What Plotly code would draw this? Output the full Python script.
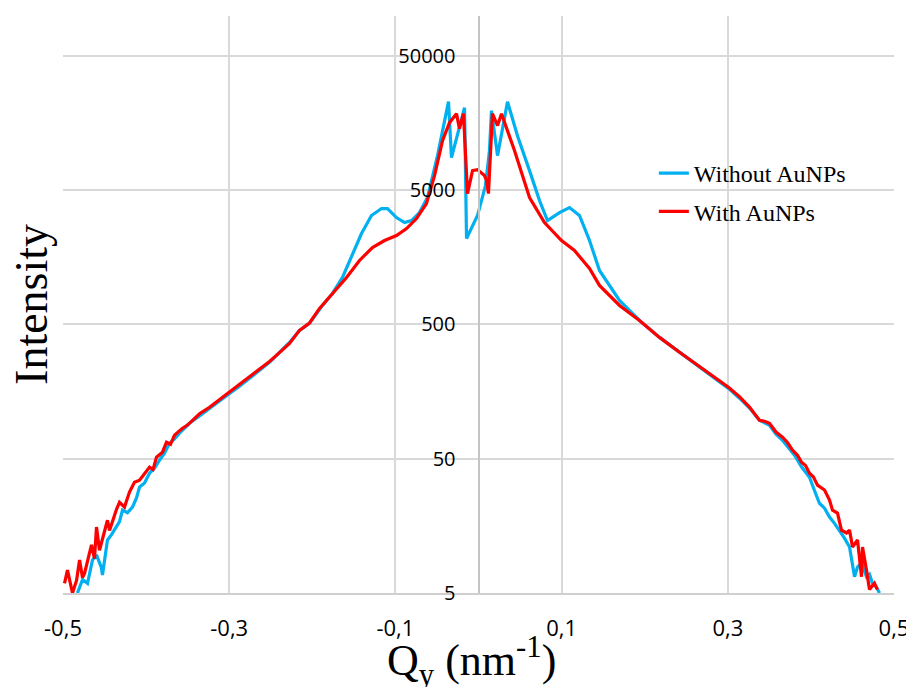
import plotly.graph_objects as go

# Q_y (nm^-1) and intensity
q_without = [-0.4826, -0.4765, -0.4705, -0.4669, -0.4645, -0.4597, -0.4540, -0.4525, -0.4489, -0.4465,
             -0.4416, -0.4356, -0.4320, -0.4284, -0.4224, -0.4164, -0.4116, -0.4079, -0.4019, -0.3959,
             -0.3899, -0.3839, -0.3779, -0.3718, -0.3658, -0.3598, -0.3538, -0.3478, -0.3357, -0.3237,
             -0.3116, -0.2996, -0.2876, -0.2756, -0.2635, -0.2515, -0.2395, -0.2274, -0.2154, -0.2034,
             -0.1877, -0.1757, -0.1637, -0.1516, -0.1408,
             -0.1288, -0.1167, -0.1095, -0.0987, -0.0890, -0.0806, -0.0710, -0.0614, -0.0493,
             -0.0361, -0.0325, -0.0168, -0.0144, -0.0012, 0.0084, 0.0132, 0.0156, 0.0229,
             0.0349, 0.0469, 0.0614, 0.0734, 0.0830, 0.0975, 0.1095, 0.1215, 0.1336, 0.1456,
             0.1697, 0.1937, 0.2178, 0.2419, 0.2659, 0.2840, 0.3008, 0.3140, 0.3261, 0.3381, 0.3442,
             0.3502, 0.3580, 0.3658, 0.3730, 0.3803, 0.3887, 0.3983, 0.4043, 0.4103, 0.4164, 0.4224,
             0.4284, 0.4344, 0.4404, 0.4465, 0.4525, 0.4561, 0.4609, 0.4669, 0.4705, 0.4741, 0.4790,
             0.4826]
i_without = [5.0, 6.3, 5.9, 7.4, 8.8, 9.6, 7.8, 6.8, 10.2, 12.4,
             13.6, 15.5, 17.0, 20.7, 19.8, 21.8, 25.5, 30.7, 33.0, 39.0,
             42.5, 48.7, 55.0, 65.2, 70.1, 77.4, 84.0, 91.8, 104, 118.7,
             134, 153, 173, 198, 228, 261, 310, 367, 451, 509,
             692, 850, 1118, 1686, 2374,
             3232, 3643, 3643, 3123, 2866, 2966, 3401, 4398, 9025,
             22750, 8720, 20520, 2180, 3230, 5400, 9840, 19500, 9030,
             22750, 12700, 6980, 4180, 2966, 3401, 3707, 3232, 2106, 1260,
             754, 535, 400, 310, 239, 200, 167, 141, 119, 96.6, 93.0,
             88.7, 76.0, 68.6, 60.2, 53.1, 43.5, 36.4, 29.0, 23.3, 21.4, 18.4,
             16.5, 14.7, 12.8, 11.0, 6.6, 7.8, 8.4, 6.6, 6.9, 5.9, 5.5,
             5.0]

q_with = [-0.4982, -0.4946, -0.4886, -0.4837, -0.4801, -0.4765, -0.4741, -0.4693, -0.4657, -0.4621,
          -0.4597, -0.4561, -0.4513, -0.4465, -0.4440, -0.4404, -0.4356, -0.4320, -0.4260, -0.4200,
          -0.4140, -0.4079, -0.4019, -0.3959, -0.3917, -0.3875, -0.3803, -0.3755, -0.3706, -0.3658,
          -0.3610, -0.3562, -0.3502, -0.3442, -0.3357, -0.3237, -0.3116, -0.2996, -0.2876, -0.2756,
          -0.2635, -0.2515, -0.2395, -0.2274, -0.2154, -0.2034, -0.1913, -0.1757, -0.1588, -0.1432,
          -0.1276, -0.1131, -0.0987,
          -0.0866, -0.0746, -0.0626, -0.0529, -0.0433, -0.0349, -0.0265, -0.0229, -0.0181,
          -0.0132, -0.0072, -0.0012, 0.0072, 0.0096, 0.0120, 0.0168, 0.0229, 0.0277,
          0.0433, 0.0614, 0.0794, 0.0999, 0.1155, 0.1336, 0.1456, 0.1697, 0.1937, 0.2178,
          0.2419, 0.2659, 0.2840, 0.3008, 0.3140, 0.3261, 0.3381, 0.3442, 0.3502, 0.3580, 0.3658,
          0.3718, 0.3779, 0.3839, 0.3887, 0.3935, 0.3983, 0.4031, 0.4079,
          0.4164, 0.4224, 0.4260, 0.4320, 0.4368, 0.4428, 0.4465, 0.4501, 0.4561, 0.4609,
          0.4621, 0.4669, 0.4705, 0.4765, 0.4801]
i_with = [5.9, 7.4, 5.0, 6.2, 8.8, 6.5, 7.0, 9.3, 11.4, 9.0,
          15.5, 10.4, 13.8, 17.4, 14.6, 17.4, 21.0, 23.7, 21.8, 28.2,
          33.4, 34.6, 39.0, 43.2, 41.5, 51.3, 55.9, 66.3, 64.0, 74.8,
          79.5, 84.3, 89.0, 96.6, 108, 120.8, 138, 156, 178, 202,
          231, 265, 308, 361, 451, 512, 657, 850, 1118, 1495,
          1868, 2106, 2295,
          2587, 3070, 3967, 6410, 11670, 15880, 18530, 14330, 18530,
          4710, 6980, 7100, 6410, 5890, 4710, 18530, 15100, 18530,
          9840, 4398, 2866, 2106, 1774, 1304, 975, 692, 535, 400,
          310, 243, 204, 170, 145, 121, 96.6, 95.0, 91.8, 79.0, 72.3,
          66.0, 57.8, 53.0, 47.1, 44.5, 39.0, 36.5, 31.8,
          29.2, 24.6, 20.7, 19.7, 14.7, 14.0, 14.7, 11.0, 12.4, 6.6,
          11.0, 7.4, 5.3, 5.9, 5.3]

x_tickvals = [-0.5, -0.3, -0.1, 0.1, 0.3, 0.5]
x_ticktext = ["-0,5", "-0,3", "-0,1", "0,1", "0,3", "0,5"]
y_tickvals = [5, 50, 500, 5000, 50000]
y_ticktext = ["5", "50", "500", "5000", "50000"]

fig = go.Figure()
fig.add_trace(go.Scatter(x=q_without, y=i_without, mode="lines", name="Without AuNPs",
                         line=dict(color="#00B0F0", width=3.2), legendgroup="a"))
fig.add_trace(go.Scatter(x=q_with, y=i_with, mode="lines", name="With AuNPs",
                         line=dict(color="#FF0000", width=3.2), legendgroup="b"))

grid = "#d9d9d9"
# the page adds an 8px body margin, so the figure is 8px smaller and margins compensate
fig.update_layout(
    width=906, height=679,
    margin=dict(l=55, r=20, t=8, b=94),
    paper_bgcolor="white", plot_bgcolor="white",
    font=dict(family="Open Sans", color="black"),
    showlegend=True,
    legend=dict(x=0.711, y=0.766, xanchor="left", yanchor="top",
                bgcolor="rgba(0,0,0,0)", tracegroupgap=4, traceorder="grouped",
                font=dict(family="Liberation Serif", size=24, color="black")),
    xaxis=dict(range=[-0.5, 0.5], tickvals=x_tickvals, ticktext=x_ticktext,
               showgrid=True, gridcolor=grid, gridwidth=1.5, zeroline=False,
               showline=True, linecolor="#cfcfcf", linewidth=1.5, mirror=False,
               ticks="", ticklabelstandoff=15, automargin=False,
               tickfont=dict(family="Open Sans", size=22, color="black")),
    yaxis=dict(type="log", range=[0.69897, 4.995], tickvals=y_tickvals, ticktext=y_ticktext,
               anchor="free", position=0.5, side="left", automargin=False,
               showgrid=True, gridcolor=grid, gridwidth=1.5, zeroline=False,
               showline=True, linecolor="#c4c4c4", linewidth=2,
               ticks="", ticklabelstandoff=18,
               tickfont=dict(family="Open Sans", size=20, color="black")),
    annotations=[
        dict(text="Intensity", xref="paper", yref="paper", x=-0.038, y=0.5,
             xanchor="center", yanchor="middle", textangle=-90, showarrow=False,
             font=dict(family="Liberation Serif", size=46, color="black")),
        dict(text="Q<sub>y</sub> (nm<sup>-1</sup>)", xref="paper", yref="paper", x=0.491, y=-0.118,
             xanchor="center", yanchor="middle", showarrow=False,
             font=dict(family="Liberation Serif", size=44, color="black")),
    ],
)

fig.write_html("out.html")
